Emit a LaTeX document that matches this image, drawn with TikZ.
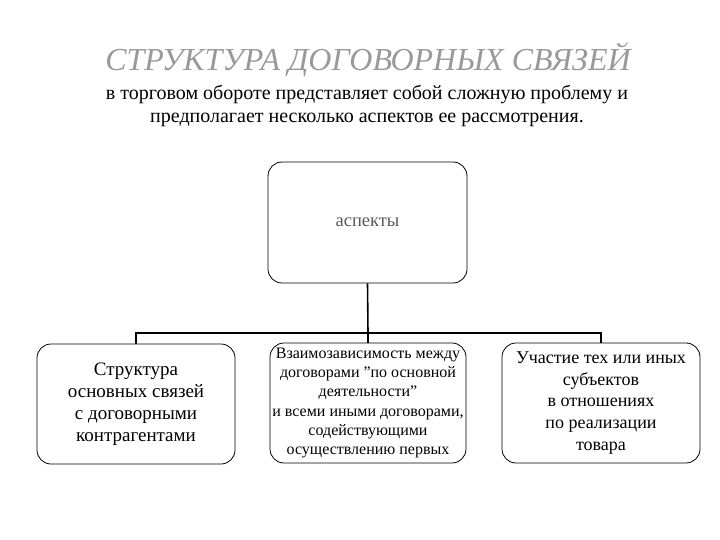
\documentclass[tikz,border=0pt]{standalone}
\usepackage{fontspec}
\setmainfont{Liberation Serif}
\begin{document}
\begin{tikzpicture}[x=1pt,y=-1pt,
  bx/.style={draw,line width=0.8pt,rounded corners=14pt,inner sep=1pt,align=center},
  ln/.style={line width=1.6pt}]
\useasboundingbox (0,0) rectangle (720,540);
\node[text=gray!80,font=\fontsize{32}{34}\selectfont\itshape] (title) at (368,60) {СТРУКТУРА ДОГОВОРНЫХ СВЯЗЕЙ};
\node[align=center,font=\fontsize{20}{23}\selectfont] (sub) at (367,106) {в торговом обороте представляет собой сложную проблему и\\ предполагает несколько аспектов ее рассмотрения.};
\node[bx,minimum width=199pt,minimum height=121pt,font=\fontsize{18.5}{20}\selectfont,text=gray!70!black] (top) at (367.5,222.5) {аспекты};
\node[bx,minimum width=198pt,minimum height=120pt,font=\fontsize{19}{22}\selectfont] (b1) at (136,404) {Структура\\основных связей\\с договорными\\контрагентами};
\node[bx,minimum width=196pt,minimum height=120pt,font=\fontsize{16}{19.3}\selectfont] (b2) at (368,403) {Взаимозависимость между\\договорами \symbol{34}по основной\\деятельности\symbol{34}\\и всеми иными договорами,\\содействующими\\осуществлению первых};
\node[bx,minimum width=198pt,minimum height=120pt,font=\fontsize{18}{21.7}\selectfont] (b3) at (601,403) {Участие тех или иных\\субъектов\\в отношениях\\по реализации\\товара};
\coordinate (j) at (368,333);
\draw[ln] (top.south) -- (j);
\draw[ln] (b1.north) -- (b1.north |- j) -- (b3.north |- j) -- (b3.north);
\draw[ln] (j) -- (b2.north);
\end{tikzpicture}
\end{document}
